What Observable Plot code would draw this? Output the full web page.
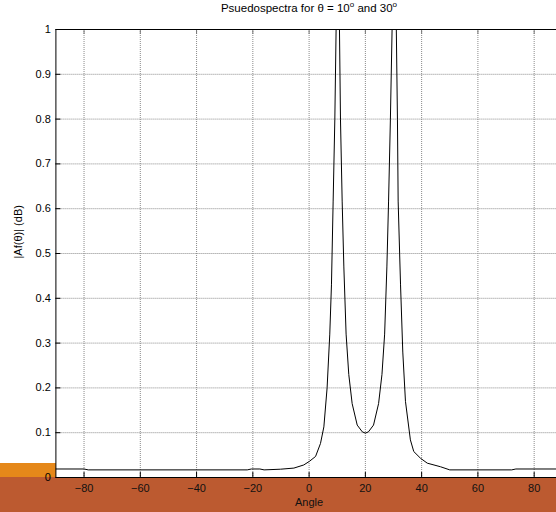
<!DOCTYPE html>
<html>
<head>
<meta charset="utf-8">
<script src="https://cdn.jsdelivr.net/npm/d3@7"></script>
<script src="https://cdn.jsdelivr.net/npm/@observablehq/plot@0.6"></script>
<style>
  html, body { margin: 0; padding: 0; background: #fff; overflow: hidden; }
  #wrap { position: relative; width: 556px; height: 512px; overflow: hidden; font-family: "Liberation Sans", Arial, sans-serif; }
  #band1 { position: absolute; left: 0; top: 463px; width: 56px; height: 14px; background: #E5881A; }
  #band2 { position: absolute; left: 0; top: 477px; width: 556px; height: 35px; background: #BC5A30; }
  #chart { position: absolute; left: 0; top: 0; width: 563px; height: 512px; }
  #chart svg { max-width: none !important; width: 563px !important; height: 512px !important; }
  #title { position: absolute; left: 0; top: 2px; width: 618px; text-align: center; font-size: 11.5px; color: #000; }
  #title sup { font-size: 8px; vertical-align: 5px; line-height: 0; }
</style>
</head>
<body>
<div id="wrap">
  <div id="band1"></div>
  <div id="band2"></div>
  <div id="chart"></div>
  <div id="title">Psuedospectra for &theta; = 10<sup>o</sup> and 30<sup>o</sup></div>
</div>
<script>
// Pseudospectrum (angle in degrees, normalized magnitude)
const angles = [-90, -80, -78.5, -22, -20.5, -17.5, -16, -10.2, -5.4, -1.9, 0.1, 2.3, 4.05, 5.25, 6.4, 7.35, 7.95, 8.55, 9.15, 9.6, 10.8, 11.15, 11.75, 12.35, 13.15, 14.1, 15.3, 17.1, 18.9, 20, 21.1, 22.9, 24.7, 25.9, 26.85, 27.65, 28.25, 28.9, 29.5, 31.0, 31.4, 31.65, 32.5, 33.3, 34.25, 36, 37.2, 39.6, 42, 46.7, 50, 72, 73.5, 90];
const values = [0.019, 0.019, 0.017, 0.017, 0.019, 0.019, 0.017, 0.0185, 0.021, 0.028, 0.036, 0.047, 0.076, 0.113, 0.2, 0.32, 0.43, 0.617, 0.8, 1.0, 1.0, 0.8, 0.617, 0.47, 0.32, 0.23, 0.165, 0.117, 0.102, 0.099, 0.102, 0.117, 0.165, 0.23, 0.32, 0.47, 0.617, 0.8, 1.0, 1.0, 0.8, 0.617, 0.43, 0.28, 0.17, 0.084, 0.058, 0.043, 0.032, 0.024, 0.017, 0.017, 0.019, 0.019];

const xTicks = [-80, -60, -40, -20, 0, 20, 40, 60, 80];
const yTicks = [0, 0.1, 0.2, 0.3, 0.4, 0.5, 0.6, 0.7, 0.8, 0.9, 1];
const xLabel = "Angle";
const yLabel = "|Af(θ)| (dB)";

const data = angles.map((a, i) => ({angle: a, value: values[i]}));

const chart = Plot.plot({
  width: 563,
  height: 512,
  marginLeft: 55.4,
  marginRight: 1.2,
  marginTop: 29,
  marginBottom: 35,
  style: {background: "transparent", fontFamily: "Liberation Sans, Arial, sans-serif", fontSize: "11px", color: "#000", maxWidth: "none"},
  x: {domain: [-90, 90]},
  y: {domain: [0, 1]},
  marks: [
    Plot.frame({fill: "white"}),
    Plot.gridX(xTicks, {stroke: "#8a8a8a", strokeOpacity: 1, strokeDasharray: "1,1"}),
    Plot.gridY(yTicks.filter(v => v > 0 && v < 1), {stroke: "#8a8a8a", strokeOpacity: 1, strokeDasharray: "1,1"}),
    Plot.line(data, {x: "angle", y: "value", stroke: "black", strokeWidth: 1, clip: true}),
    Plot.axisX(xTicks, {anchor: "bottom", tickSize: -5, tickPadding: 12, label: null, fill: "#111"}),
    Plot.axisX(xTicks, {anchor: "top", tickSize: -4, tickFormat: () => "", label: null, stroke: "#777"}),
    Plot.axisY(yTicks, {anchor: "left", tickSize: -5, tickPadding: 10, label: null, tickFormat: d => String(+d.toFixed(1))}),
    Plot.frame({stroke: "black", strokeWidth: 1}),
    Plot.text([xLabel], {text: d => d, frameAnchor: "bottom", dy: 28, fontSize: 11, fill: "#111"}),
    Plot.text([yLabel], {text: d => d, frameAnchor: "left", dx: -37, dy: 5, rotate: -90, fontSize: 11})
  ]
});
document.getElementById("chart").appendChild(chart);
</script>
</body>
</html>
